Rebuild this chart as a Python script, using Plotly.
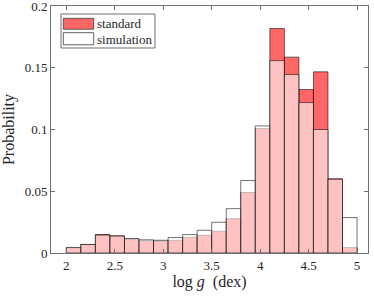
import plotly.graph_objects as go

bin_left = [2.0, 2.15, 2.3, 2.45, 2.6, 2.75, 2.9, 3.05, 3.2, 3.35,
            3.5, 3.65, 3.8, 3.95, 4.1, 4.25, 4.4, 4.55, 4.7, 4.85]
bin_width = 0.15
standard = [0.0042, 0.0069, 0.0150, 0.0139, 0.0113, 0.0099, 0.0096, 0.0103, 0.0127, 0.0143,
            0.0176, 0.0278, 0.0490, 0.1008, 0.1818, 0.1586, 0.1324, 0.1467, 0.0601, 0.0044]
simulation = [0.0045, 0.0069, 0.0145, 0.0137, 0.0117, 0.0107, 0.0103, 0.0125, 0.0149, 0.0184,
              0.0249, 0.0359, 0.0587, 0.1029, 0.1558, 0.1445, 0.1218, 0.1000, 0.0597, 0.0287]
series_names = ["standard", "simulation"]
x_ticks = [2, 2.5, 3, 3.5, 4, 4.5, 5]
x_ticktext = ["2", "2.5", "3", "3.5", "4", "4.5", "5"]
y_ticks = [0, 0.05, 0.1, 0.15, 0.2]
y_ticktext = ["0", "0.05", "0.1", "0.15", "0.2"]

centers = [b + bin_width / 2 for b in bin_left]
FONT = "Liberation Serif, Times New Roman, serif"
RED = "rgba(255,0,0,0.6)"
WHITE = "rgba(255,255,255,0.6)"
EDGE = "rgba(0,0,0,0.55)"

fig = go.Figure()
fig.add_trace(go.Bar(
    x=centers, y=standard, width=bin_width, name=series_names[0],
    marker=dict(color=RED, line=dict(color=EDGE, width=1)),
))
fig.add_trace(go.Bar(
    x=centers, y=simulation, width=bin_width, name=series_names[1],
    marker=dict(color=WHITE, line=dict(color=EDGE, width=1)),
))

axis_common = dict(
    showline=True, linecolor="#707070", linewidth=1, mirror="ticks",
    ticks="inside", ticklen=4, tickcolor="#707070", showgrid=False, zeroline=False,
    automargin=False, ticklabeloverflow="allow",
    tickfont=dict(family=FONT, size=13, color="#262626"),
)

# legend box drawn in paper coordinates
shapes = [
    dict(type="rect", xref="paper", yref="paper", x0=0.0315, x1=0.328, y0=0.830, y1=0.9676,
         line=dict(color="#707070", width=1), fillcolor="white", layer="above"),
    dict(type="rect", xref="paper", yref="paper", x0=0.0388, x1=0.1347, y0=0.906, y1=0.950,
         line=dict(color="rgba(60,60,60,0.8)", width=1), fillcolor="#FF6666", layer="above"),
    dict(type="rect", xref="paper", yref="paper", x0=0.0388, x1=0.1347, y0=0.843, y1=0.892,
         line=dict(color="rgba(60,60,60,0.8)", width=1), fillcolor="white", layer="above"),
]
annotations = [
    dict(text=series_names[0], xref="paper", yref="paper", x=0.140, y=0.929,
         xanchor="left", yanchor="middle", showarrow=False,
         font=dict(family=FONT, size=13, color="#262626")),
    dict(text=series_names[1], xref="paper", yref="paper", x=0.140, y=0.866,
         xanchor="left", yanchor="middle", showarrow=False,
         font=dict(family=FONT, size=13, color="#262626")),
]

fig.update_layout(
    width=374, height=296,
    margin=dict(l=51, r=6, t=6, b=43),
    barmode="overlay",
    plot_bgcolor="white", paper_bgcolor="white",
    font=dict(family=FONT, size=13, color="#262626"),
    xaxis=dict(range=[1.842, 5.113], tickvals=x_ticks, ticktext=x_ticktext,
               title=dict(text="log <i>g</i>&nbsp; (dex)", font=dict(family=FONT, size=16), standoff=2),
               **axis_common),
    yaxis=dict(range=[0, 0.20001], tickvals=y_ticks, ticktext=y_ticktext,
               title=dict(text="Probability", font=dict(family=FONT, size=16)),
               **axis_common),
    shapes=shapes,
    annotations=annotations,
    showlegend=False,
)

fig.write_html("out.html", config={"displayModeBar": False},
               post_script="document.body.style.margin='0';document.body.style.overflow='hidden';")
